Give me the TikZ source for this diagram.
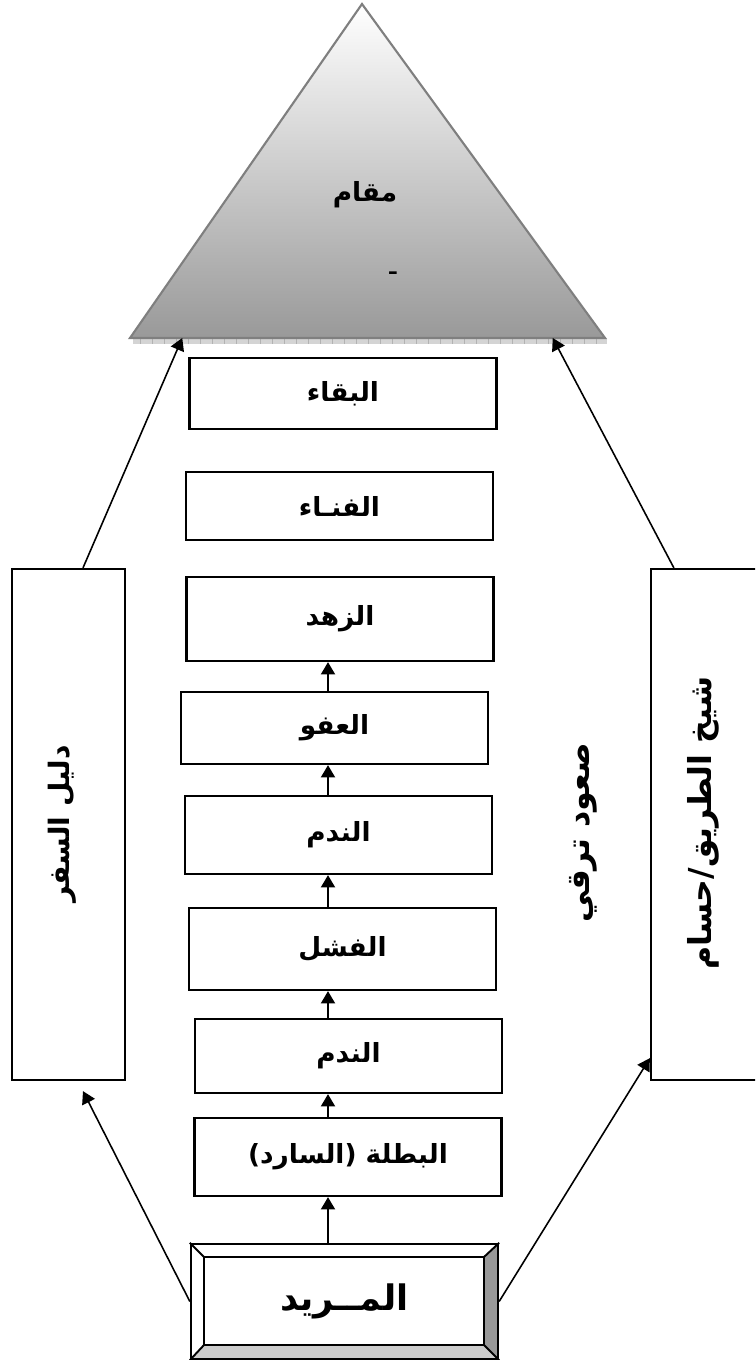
\documentclass[tikz,border=0pt]{standalone}
\usepackage{fontspec}
\usetikzlibrary{arrows.meta,calc}
\newfontfamily\arabicfont[Script=Arabic]{DejaVu Sans}
\TeXXeTstate=1
\newlength\px
\setlength\px{0.02cm}
\definecolor{peakedge}{HTML}{7F7F7F}
\definecolor{peaklow}{HTML}{999999}
\definecolor{strip}{HTML}{D4D4D4}
\definecolor{bevelside}{HTML}{999999}
\definecolor{bevelfoot}{HTML}{CCCCCC}

\begin{document}
\begin{tikzpicture}[x=1\px,y=-1\px]

    \tikzset{
      stage/.style={
        draw,
        line width=1.3pt,
        inner sep=0pt,
        minimum width=307\px,
        font=\arabicfont\bfseries\fontsize{15}{17}\selectfont,
      },
      side/.style={
        draw,
        line width=1.3pt,
        inner sep=0pt,
        minimum width=113\px,
        minimum height=511\px,
      },
      vtext/.style={
        rotate=90,
        font=\arabicfont\bfseries\fontsize{16}{18}\selectfont,
      },
      arr/.style={
        line width=1.1pt,
        -{Triangle[length=7pt,width=8pt]},
      },
    }
    \useasboundingbox (0,0) rectangle (755,1360);
    \clip (0,0) rectangle (755,1360);

	% the peak
	\coordinate (apex) at (362,4);
	\coordinate (baseL) at (130,338);
	\coordinate (baseR) at (605,338);
	\fill[color={strip}] (133,338) rectangle (607,344);
	\foreach \i in {140,152,...,604} \draw[color={gray!60},line width=0.3pt] (\i,338)--(\i,344);
	\shadedraw[top color=white,bottom color=peaklow,draw=peakedge,line width=1.2pt] (apex)--(baseR)--(baseL)--cycle;
	\node (maqam) at (365,195) [font=\arabicfont\bfseries\fontsize{15}{17}\selectfont] {\beginR مقام\endR};
	\node (tick) at (393,273) [font=\arabicfont\bfseries\fontsize{12}{14}\selectfont] {ـ};

	% the stages
	\node[stage,minimum height=71\px] (baqa) at (343,393.5) {\beginR البقاء\endR};
	\node[stage,minimum height=68\px] (fana) at (339.5,506) {\beginR الفنـاء\endR};
	\node[stage,minimum height=84\px] (zuhd) at (340,619) {\beginR الزهد\endR};
	\node[stage,minimum height=72\px] (afw) at (334.5,728) {\beginR العفو\endR};
	\node[stage,minimum height=78\px] (nadama) at (338.5,835) {\beginR الندم\endR};
	\node[stage,minimum height=82\px] (fashal) at (342.5,949) {\beginR الفشل\endR};
	\node[stage,minimum height=74\px] (nadamb) at (348.5,1056) {\beginR الندم\endR};
	\node[stage,minimum height=78\px] (batala) at (348,1157) {\beginR البطلة (السارد)\endR};

	% the seeker, in a bevelled frame
	\fill[color={bevelside}] (498,1244)--(498,1359)--(483,1344)--(483,1258)--cycle;
	\fill[color={bevelfoot}] (191,1359)--(498,1359)--(483,1344)--(205,1344)--cycle;
	\node[draw,line width=1.3pt,inner sep=0pt,minimum width=307\px,minimum height=115\px,
	  font=\arabicfont\bfseries\fontsize{20}{24}\selectfont] (murid) at (344.5,1301.5) {\beginR المــريد\endR};
	\draw[line width=1.1pt] ($(murid.north west)+(14,14)$) rectangle ($(murid.south east)+(-15,-15)$);
	\draw[line width=1.1pt] (murid.north west)--+(14,14) (murid.north east)--+(-15,14)
	  (murid.south west)--+(14,-15) (murid.south east)--+(-15,-15);

	% side panels
	\node[side] (dalil) at (68.5,824.5) {};
	\node[side,minimum width=120\px] (shaykh) at (711,824.5) {};
	\node[vtext] (dalillabel) at (62,824) {\beginR دليل السفر\endR};
	\node[vtext,font=\arabicfont\bfseries\fontsize{18}{20}\selectfont] (shaykhlabel) at (703,823) {\beginR شيخ الطريق/حسام\endR};
	\node[vtext,font=\arabicfont\bfseries\fontsize{18}{20}\selectfont] (suud) at (583,833) {\beginR صعود ترقي\endR};

	\coordinate (spine) at (328,0);
	\foreach \a/\b in {murid/batala,batala/nadamb,nadamb/fashal,fashal/nadama,nadama/afw,afw/zuhd}
	  \draw[arr] (\a.north -| spine)--(\b.south -| spine);

	\draw[arr,line width=0.9pt] (murid.west)--($(dalil.south)+(14.5,10)$);
	\draw[arr,line width=0.9pt] ($(dalil.north)+(14.5,0)$)--($(baseL)!0.11!(baseR)$);
	\draw[arr,line width=0.9pt] (murid.east)--($(shaykh.south west)+(0,-23)$);
	\draw[arr,line width=0.9pt] ($(shaykh.north west)+(24,0)$)--($(baseL)!0.89!(baseR)$);

\end{tikzpicture}
\end{document}
